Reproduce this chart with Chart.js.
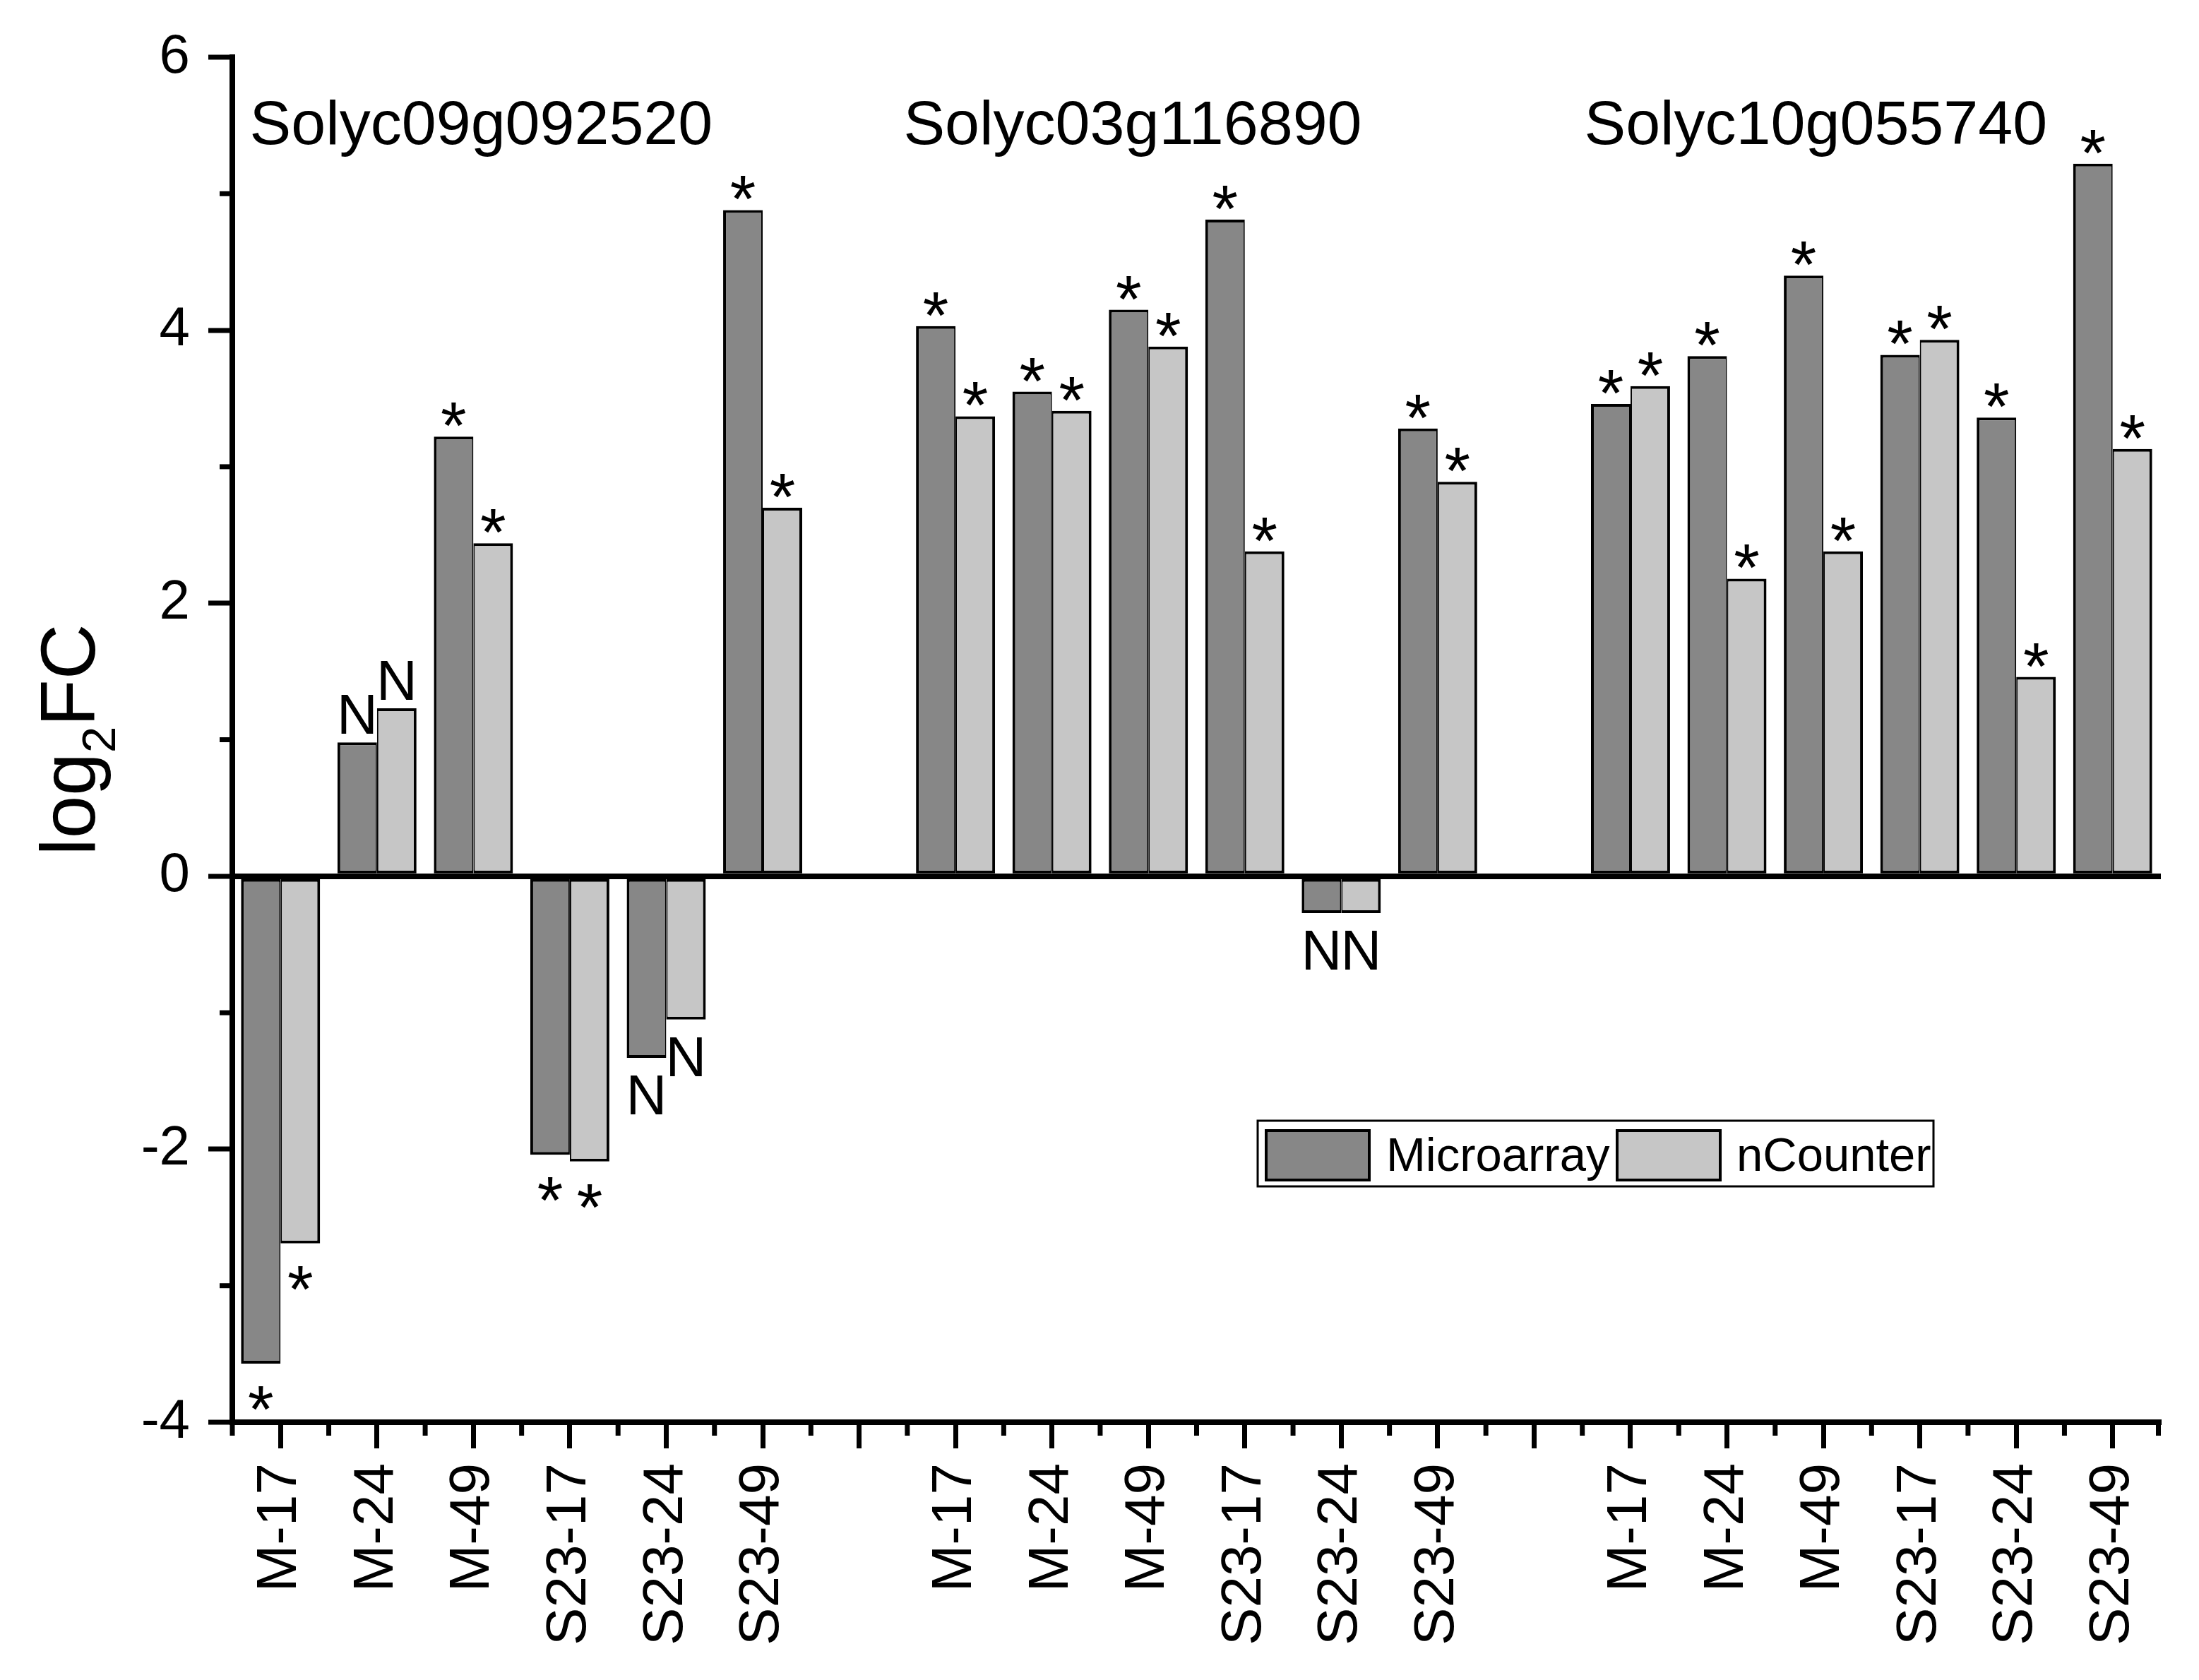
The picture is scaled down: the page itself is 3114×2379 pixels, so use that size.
<!DOCTYPE html>
<html>
<head>
<meta charset="utf-8">
<script src="https://cdn.jsdelivr.net/npm/chart.js@4.4.1/dist/chart.umd.min.js"></script>
<style>
html,body{margin:0;padding:0;background:#ffffff;}
canvas{display:block;}
</style>
</head>
<body>
<canvas id="chart" width="3114" height="2379" style="width:3114px;height:2379px"></canvas>
<script>
// ---------------- DATA ----------------
const genes = ['Solyc09g092520', 'Solyc03g116890', 'Solyc10g055740'];
const conditions = ['M-17', 'M-24', 'M-49', 'S23-17', 'S23-24', 'S23-49'];

const microarray1 = [-3.57, 0.98, 3.22, -2.04, -1.33, 4.88];
const microarray2 = [4.03, 3.55, 4.15, 4.81, -0.27, 3.28];
const microarray3 = [3.46, 3.81, 4.40, 3.82, 3.36, 5.22];

const ncounter1 = [-2.69, 1.23, 2.44, -2.09, -1.05, 2.70];
const ncounter2 = [3.37, 3.41, 3.88, 2.38, -0.27, 2.89];
const ncounter3 = [3.59, 2.18, 2.38, 3.93, 1.46, 3.13];

const sigMicro1 = ['*', 'N', '*', '*', 'N', '*'];
const sigMicro2 = ['*', '*', '*', '*', 'N', '*'];
const sigMicro3 = ['*', '*', '*', '*', '*', '*'];
const sigNC1 = ['*', 'N', '*', '*', 'N', '*'];
const sigNC2 = ['*', '*', '*', '*', 'N', '*'];
const sigNC3 = ['*', '*', '*', '*', '*', '*'];

const yMin = -4, yMax = 6, yStep = 2;
const yAxisTitle = ['log', '2', 'FC'];   // log2FC with subscript 2
const seriesNames = ['Microarray', 'nCounter'];

// ---------------- BUILD ----------------
const FONT = "'Liberation Sans', Arial, Helvetica, sans-serif";
const micro = [microarray1, microarray2, microarray3];
const nc = [ncounter1, ncounter2, ncounter3];
const sm = [sigMicro1, sigMicro2, sigMicro3];
const sn = [sigNC1, sigNC2, sigNC3];

const labels = [], microData = [], ncData = [], microSig = [], ncSig = [], groupStart = [];
genes.forEach((g, gi) => {
  groupStart.push(labels.length);
  conditions.forEach((c, ci) => {
    labels.push(c);
    microData.push(micro[gi][ci]);
    ncData.push(nc[gi][ci]);
    microSig.push(sm[gi][ci]);
    ncSig.push(sn[gi][ci]);
  });
  if (gi < genes.length - 1) {
    labels.push('');
    microData.push(null); ncData.push(null);
    microSig.push(null); ncSig.push(null);
  }
});
const sigs = [microSig, ncSig];

const DARK = '#878787', LIGHT = '#c6c6c6';
const groupLabelOffset = [-0.32, -0.54, -0.48]; // in category widths, relative to first category

const extras = {
  id: 'extras',
  afterDraw(chart) {
    const ctx = chart.ctx;
    const xs = chart.scales.x, ys = chart.scales.y;
    const area = chart.chartArea;
    ctx.save();
    // minor ticks y
    ctx.strokeStyle = '#000';
    ctx.lineWidth = 7;
    ctx.lineCap = 'butt';
    for (let v = yMin + 1; v < yMax; v += yStep) {
      const py = ys.getPixelForValue(v);
      ctx.beginPath(); ctx.moveTo(area.left - 18, py); ctx.lineTo(area.left, py); ctx.stroke();
    }
    // minor ticks x (category boundaries)
    for (let i = 0; i <= labels.length; i++) {
      let px = xs.getPixelForValue(i - 0.5);
      if (i === 0) px = area.left;
      if (i === labels.length) px = Math.min(px, area.right - 3.5);
      ctx.beginPath(); ctx.moveTo(px, area.bottom); ctx.lineTo(px, area.bottom + 19); ctx.stroke();
    }
    // y axis title
    ctx.fillStyle = '#000';
    ctx.textBaseline = 'alphabetic';
    ctx.textAlign = 'left';
    const big = '109px ' + FONT, small = '67px ' + FONT;
    ctx.font = big; const w1 = ctx.measureText(yAxisTitle[0]).width; const w3 = ctx.measureText(yAxisTitle[2]).width;
    ctx.font = small; const w2 = ctx.measureText(yAxisTitle[1]).width;
    const total = w1 + w2 + w3;
    const cy = (area.top + area.bottom) / 2;
    ctx.save();
    ctx.translate(134, cy);
    ctx.rotate(-Math.PI / 2);
    let x0 = -total / 2;
    ctx.font = big; ctx.fillText(yAxisTitle[0], x0, 0);
    ctx.font = small; ctx.fillText(yAxisTitle[1], x0 + w1, 29);
    ctx.font = big; ctx.fillText(yAxisTitle[2], x0 + w1 + w2, 0);
    ctx.restore();
    // group labels
    const cat = xs.getPixelForValue(1) - xs.getPixelForValue(0);
    ctx.font = '88px ' + FONT;
    ctx.textAlign = 'left';
    genes.forEach((g, gi) => {
      const px = xs.getPixelForValue(groupStart[gi]) + groupLabelOffset[gi] * cat;
      ctx.fillText(g, px, 204);
    });
    // significance marks
    ctx.textAlign = 'center';
    chart.data.datasets.forEach((ds, di) => {
      const meta = chart.getDatasetMeta(di);
      meta.data.forEach((el, j) => {
        const v = ds.data[j];
        const s = sigs[di][j];
        if (v === null || v === undefined || !s) return;
        const isStar = s === '*';
        ctx.font = (isStar ? '94px ' : '80px ') + FONT;
        const m = ctx.measureText(s);
        const asc = m.actualBoundingBoxAscent, desc = m.actualBoundingBoxDescent;
        let by;
        if (v >= 0) {
          const inkBottom = el.y - (isStar ? 14 : 12);
          by = inkBottom - desc;
        } else {
          const inkTop = el.y + (isStar ? 32 : 25);
          by = inkTop + asc;
        }
        ctx.fillText(s, el.x, by);
      });
    });
    // legend
    const lx = 1781, ly = 1587, lw = 957, lh = 93;
    ctx.lineWidth = 3;
    ctx.strokeStyle = '#000';
    ctx.strokeRect(lx, ly, lw, lh);
    const sw = [{x: 1793, tx: 1963}, {x: 2290, tx: 2459}];
    chart.data.datasets.forEach((ds, di) => {
      ctx.fillStyle = ds.backgroundColor;
      ctx.fillRect(sw[di].x, 1601, 146, 70);
      ctx.lineWidth = 4;
      ctx.strokeStyle = '#000';
      ctx.strokeRect(sw[di].x, 1601, 146, 70);
      ctx.fillStyle = '#000';
      ctx.font = '67px ' + FONT;
      ctx.textAlign = 'left';
      ctx.fillText(ds.label, sw[di].tx, 1658);
    });
    ctx.restore();
  }
};

new Chart(document.getElementById('chart'), {
  type: 'bar',
  data: {
    labels: labels,
    datasets: [
      {
        label: seriesNames[0], data: microData, backgroundColor: DARK, borderColor: '#000',
        borderWidth: {top: 4, left: 4, bottom: 4, right: 2}, borderSkipped: false
      },
      {
        label: seriesNames[1], data: ncData, backgroundColor: LIGHT, borderColor: '#000',
        borderWidth: {top: 4, left: 2, bottom: 4, right: 4}, borderSkipped: false
      }
    ]
  },
  options: {
    responsive: false,
    devicePixelRatio: 1,
    animation: false,
    barPercentage: 1.0,
    categoryPercentage: 0.82,
    layout: {padding: {left: 0, right: 54, top: 81, bottom: 0}},
    plugins: {legend: {display: false}, tooltip: {enabled: false}, title: {display: false}},
    scales: {
      x: {
        type: 'category',
        offset: true,
        afterFit(scale) { scale.height = 365; },
        border: {display: true, color: '#000', width: 8},
        grid: {display: true, drawOnChartArea: false, drawTicks: true, tickLength: 37, tickWidth: 7, tickColor: '#000', offset: false},
        ticks: {color: '#000', font: {family: FONT, size: 80}, minRotation: 90, maxRotation: 90, autoSkip: false, padding: 21}
      },
      y: {
        min: yMin, max: yMax,
        afterFit(scale) { scale.width = 329; },
        border: {display: true, color: '#000', width: 8},
        grid: {
          display: true, drawOnChartArea: true, drawTicks: true, tickLength: 34, tickWidth: 7, tickColor: '#000',
          lineWidth: 8,
          color: (c) => (c.tick && c.tick.value === 0) ? '#000' : 'rgba(0,0,0,0)'
        },
        ticks: {stepSize: yStep, color: '#000', font: {family: FONT, size: 78}, padding: 26}
      }
    }
  },
  plugins: [extras]
});
</script>
</body>
</html>
